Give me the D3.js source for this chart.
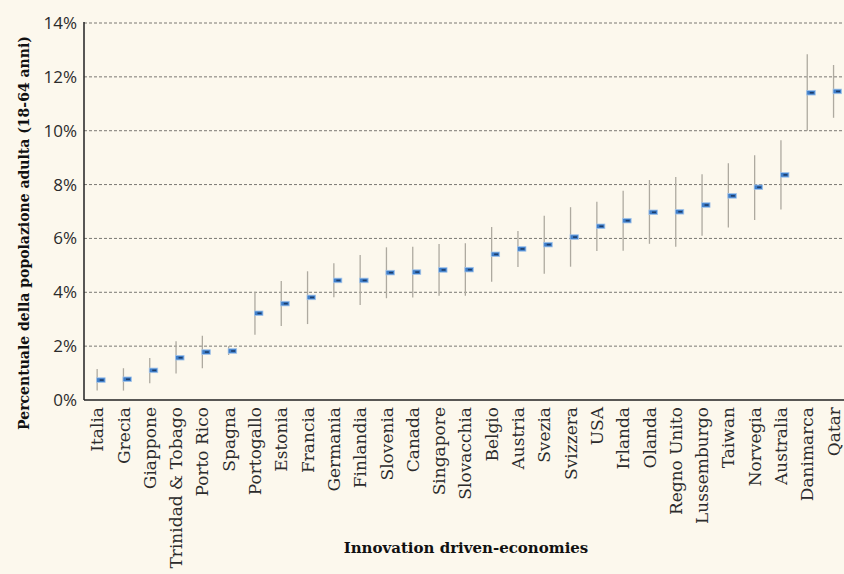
<!DOCTYPE html>
<html>
<head>
<meta charset="utf-8">
<script src="https://cdn.jsdelivr.net/npm/d3@7"></script>
<style>
  html, body { margin: 0; padding: 0; background: #fcf8ed; }
  svg { display: block; }
</style>
</head>
<body>
<svg id="chart" width="844" height="574"></svg>
<script>
// Countries, ordered by estimated rate
const countries = ["Italia", "Grecia", "Giappone", "Trinidad & Tobago", "Porto Rico", "Spagna",
  "Portogallo", "Estonia", "Francia", "Germania", "Finlandia", "Slovenia", "Canada", "Singapore",
  "Slovacchia", "Belgio", "Austria", "Svezia", "Svizzera", "USA", "Irlanda", "Olanda",
  "Regno Unito", "Lussemburgo", "Taiwan", "Norvegia", "Australia", "Danimarca", "Qatar"];

// Point estimate (% of adult population, 18-64)
const estimate = [0.74, 0.77, 1.10, 1.57, 1.78, 1.82, 3.22, 3.58, 3.81, 4.44, 4.44, 4.73, 4.75, 4.83,
  4.84, 5.41, 5.61, 5.77, 6.05, 6.45, 6.66, 6.97, 6.99, 7.24, 7.58, 7.90, 8.36, 11.41, 11.46];

// Confidence interval bounds
const upper = [1.15, 1.18, 1.56, 2.18, 2.39, 2.00, 4.02, 4.42, 4.78, 5.08, 5.38, 5.67, 5.69, 5.79,
  5.82, 6.42, 6.28, 6.84, 7.16, 7.36, 7.77, 8.17, 8.28, 8.38, 8.79, 9.09, 9.65, 12.84, 12.44];
const lower = [0.35, 0.35, 0.62, 0.98, 1.18, 1.67, 2.42, 2.75, 2.82, 3.82, 3.53, 3.78, 3.81, 3.87,
  3.87, 4.39, 4.94, 4.69, 4.95, 5.53, 5.54, 5.80, 5.69, 6.10, 6.41, 6.68, 7.07, 10.00, 10.48];

const yTicks = [0, 2, 4, 6, 8, 10, 12, 14];

const xAxisTitle = "Innovation driven-economies";
const yAxisTitle = "Percentuale della popolazione adulta (18-64 anni)";

const svg = d3.select("#chart");
const plotLeft = 84, plotTop = 23, plotBottom = 400, plotRight = 844;

const x = d3.scaleBand().domain(countries).range([plotLeft, plotLeft + 29 * 26.3]).padding(0);
const y = d3.scaleLinear().domain([0, 14]).range([plotBottom, plotTop]);

const rows = countries.map((c, i) => ({ c, v: estimate[i], lo: lower[i], hi: upper[i] }));

// Horizontal dashed gridlines
svg.append("g")
  .selectAll("line")
  .data(yTicks.filter(t => t > 0))
  .join("line")
  .attr("x1", plotLeft).attr("x2", plotRight)
  .attr("y1", d => y(d)).attr("y2", d => y(d))
  .attr("stroke", "#7a7873")
  .attr("stroke-width", 1)
  .attr("stroke-dasharray", "3,2");

// Y axis tick labels
const yAxis = d3.axisLeft(y).tickValues(yTicks).tickFormat(d => d + "%").tickSize(0).tickPadding(7);
svg.append("g")
  .attr("transform", `translate(${plotLeft},0)`)
  .call(yAxis)
  .call(g => g.select(".domain").remove())
  .selectAll("text")
  .attr("font-family", "'Open Sans', sans-serif")
  .attr("font-size", 17)
  .attr("fill", "#2b2b2b");

// Confidence interval whiskers
const cx = d => x(d.c) + x.bandwidth() / 2;
svg.append("g")
  .selectAll("line")
  .data(rows)
  .join("line")
  .attr("x1", cx).attr("x2", cx)
  .attr("y1", d => y(d.hi)).attr("y2", d => y(d.lo))
  .attr("stroke", "#aeaaa0")
  .attr("stroke-width", 1.3);

// Point estimate markers
const marks = svg.append("g").selectAll("g").data(rows).join("g")
  .attr("transform", d => `translate(${cx(d)},${y(d.v)})`);
marks.append("rect")
  .attr("x", -0.5).attr("y", -2.3)
  .attr("width", 8.5).attr("height", 4.6)
  .attr("fill", "#3f7fcb")
  .attr("stroke", "#a6c6ea")
  .attr("stroke-width", 0.8);
marks.append("rect")
  .attr("x", 2.5).attr("y", -0.8)
  .attr("width", 4).attr("height", 1.6)
  .attr("fill", "#1c3d6b");

// Axis lines
svg.append("line")
  .attr("x1", plotLeft).attr("x2", plotLeft).attr("y1", plotTop - 1).attr("y2", plotBottom)
  .attr("stroke", "#222").attr("stroke-width", 1.5);
svg.append("line")
  .attr("x1", plotLeft).attr("x2", plotRight).attr("y1", plotBottom).attr("y2", plotBottom)
  .attr("stroke", "#222").attr("stroke-width", 1.5);

// Category labels, rotated
svg.append("g")
  .selectAll("text")
  .data(countries)
  .join("text")
  .attr("transform", d => `translate(${x(d) + x.bandwidth() / 2},407) rotate(-90)`)
  .attr("text-anchor", "end")
  .attr("dy", "0.36em")
  .attr("font-family", "'DejaVu Serif', serif")
  .attr("font-size", 17)
  .attr("fill", "#2b2b2b")
  .text(d => d);

// Axis titles
svg.append("text")
  .attr("x", 466).attr("y", 553)
  .attr("text-anchor", "middle")
  .attr("font-family", "'DejaVu Serif', serif")
  .attr("font-weight", "bold")
  .attr("font-size", 15)
  .attr("fill", "#111")
  .text(xAxisTitle);

svg.append("text")
  .attr("transform", "translate(29,233) rotate(-90)")
  .attr("text-anchor", "middle")
  .attr("font-family", "'DejaVu Serif', serif")
  .attr("font-weight", "bold")
  .attr("font-size", 14)
  .attr("fill", "#111")
  .text(yAxisTitle);
</script>
</body>
</html>
